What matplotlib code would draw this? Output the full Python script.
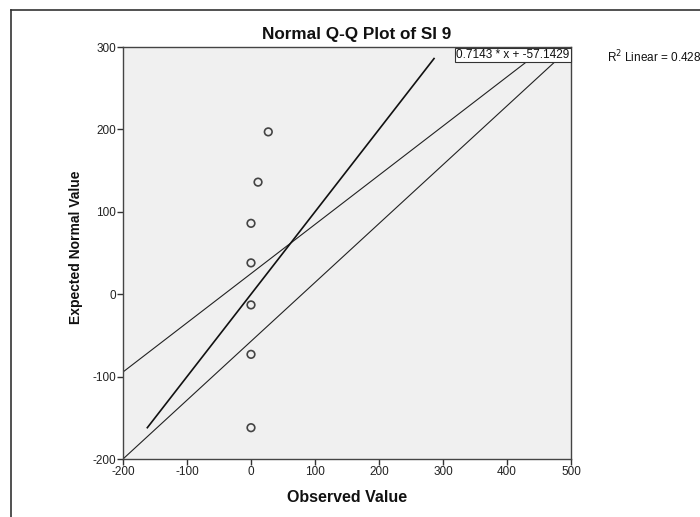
import matplotlib
matplotlib.use("Agg")
import matplotlib.pyplot as plt
from matplotlib.lines import Line2D
import numpy as np

plt.rcParams['font.family'] = ['Liberation Sans', 'DejaVu Sans']
plt.rcParams['axes.unicode_minus'] = False

# Data
observed = [0, 0, 0, 0, 0, 11, 27]
expected = [-162, -73, -13, 38, 86, 136, 197]
ref_range = [-162, 286]                # y = x reference line extent
fit_slopes = [0.7143, 0.597]
fit_intercepts = [-57.1429, 25.0]
fit_label = "0.7143 * x + -57.1429"
r2_label = r"R$^2$ Linear = 0.428"
xticks = [-200, -100, 0, 100, 200, 300, 400, 500]
yticks = [-200, -100, 0, 100, 200, 300]

W, H = 700, 517
fig = plt.figure(figsize=(7.0, 5.17), dpi=100)
ax = fig.add_axes([123 / W, 1 - 459 / H, 448 / W, 412 / H])
ax.set_facecolor('#f0f0f0')
ax.set_xlim(-200, 500)
ax.set_ylim(-200, 300)

xs = np.array([-200, 500])
for m, b in zip(fit_slopes, fit_intercepts):
    ax.plot(xs, m * xs + b, color='#222222', lw=0.8, zorder=2)
ax.plot(ref_range, ref_range, color='#111111', lw=1.2, zorder=2)

ax.scatter(observed, expected, s=30, facecolors='none', edgecolors='#444444',
           linewidths=1.2, zorder=3)

ax.text(0.997, 0.995, fit_label, transform=ax.transAxes, ha='right', va='top',
        fontsize=8.5, color='#111111', zorder=5,
        bbox=dict(boxstyle='square,pad=0.08', facecolor='white',
                  edgecolor='#333333', lw=0.8))

ax.set_xticks(xticks)
ax.set_yticks(yticks)
ax.tick_params(direction='out', length=4, width=1, labelsize=8.5,
               colors='#333333', pad=1)
for lbl in ax.get_xticklabels() + ax.get_yticklabels():
    lbl.set_color('#222222')
for s in ax.spines.values():
    s.set_color('#444444')
    s.set_linewidth(1.0)

fig.text(357 / W, 1 - 34 / H, "Normal Q-Q Plot of SI 9", ha='center',
         va='center', fontsize=12.3, fontweight='bold', color='#111111')
fig.text(347 / W, 1 - 497 / H, "Observed Value", ha='center', va='center',
         fontsize=11.5, fontweight='bold', color='#111111')
fig.text(76 / W, 1 - 247 / H, "Expected Normal Value", ha='center',
         va='center', rotation=90, fontsize=10, fontweight='bold',
         color='#111111')
fig.text(607 / W, 1 - 57 / H, r2_label, ha='left', va='center',
         fontsize=8.5, color='#111111')

# outer frame (top and left edges only)
fig.add_artist(Line2D([11 / W, 1.0], [1 - 10 / H, 1 - 10 / H],
                      transform=fig.transFigure, color='#333333', lw=1.2))
fig.add_artist(Line2D([11 / W, 11 / W], [1 - 10 / H, 0.0],
                      transform=fig.transFigure, color='#333333', lw=1.2))

fig.savefig("out.png", dpi=100)
